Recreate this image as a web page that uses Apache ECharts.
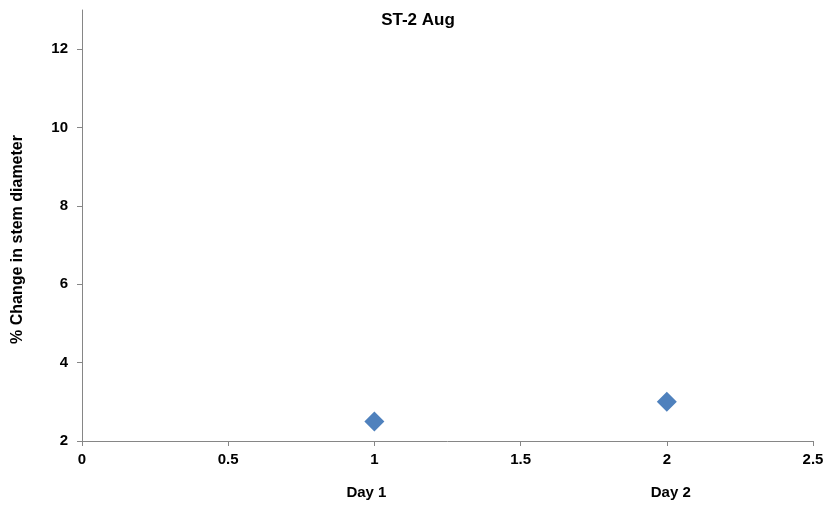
<!DOCTYPE html>
<html><head><meta charset="utf-8">
<script src="https://cdn.jsdelivr.net/npm/echarts@6/dist/echarts.min.js"></script>
<style>html,body{margin:0;padding:0;background:#fff}#c{width:829px;height:508px}</style>
</head><body><div id="c"></div>
<script>
const title = 'ST-2 Aug';
const yName = '% Change in stem diameter';
const xValues = [1, 2];
const yValues = [2.5, 3.0];
const dayLabels = ['Day 1', 'Day 2'];
const yTicks = [2, 4, 6, 8, 10, 12];
const xTicks = [0, 0.5, 1, 1.5, 2, 2.5];

const chart = echarts.init(document.getElementById('c'), null, {renderer: 'canvas'});
const font = 'Liberation Sans, Arial, sans-serif';
const axisColor = '#868686';
const lbl = {fontFamily: font, fontSize: 15, fontWeight: 'bold', color: '#000'};
chart.setOption({
  animation: false,
  title: {text: title, left: 413, top: 7, textAlign: 'center',
    textStyle: {fontFamily: font, fontSize: 17, fontWeight: 'bold', color: '#000'}},
  grid: {left: 82, right: 16, top: 10, bottom: 67, containLabel: false},
  xAxis: [{
    type: 'value', min: 0, max: 2.5, interval: 0.5,
    axisLine: {show: true, lineStyle: {color: axisColor, width: 1}},
    axisTick: {show: true, length: 5, lineStyle: {color: axisColor}, customValues: xTicks},
    splitLine: {show: false},
    axisLabel: Object.assign({margin: 11, customValues: xTicks}, lbl)
  }, {
    type: 'value', min: 0, max: 2.5, interval: 0.5, position: 'bottom', offset: 36,
    axisLine: {show: false}, axisTick: {show: false}, splitLine: {show: false},
    axisLabel: Object.assign({margin: 8, customValues: xValues,
      formatter: v => { const i = xValues.indexOf(v); return i === 0 ? '{a|' + dayLabels[i] + '}' : i === 1 ? '{b|' + dayLabels[i] + '}' : ''; },
      rich: {
        a: Object.assign({padding: [0, 16, 0, 0]}, lbl),
        b: Object.assign({padding: [0, 0, 0, 8]}, lbl)
      }}, lbl)
  }],
  yAxis: {
    type: 'value', min: 2, max: 13, interval: 2,
    name: yName, nameLocation: 'middle', nameGap: 56, nameRotate: 90,
    nameTextStyle: {fontFamily: font, fontSize: 16, fontWeight: 'bold', color: '#000', padding: [0, 0, 0, -28]},
    axisLine: {show: true, lineStyle: {color: axisColor, width: 1}},
    axisTick: {show: true, length: 5, lineStyle: {color: axisColor}, customValues: yTicks},
    splitLine: {show: false},
    axisLabel: Object.assign({margin: 14, customValues: yTicks}, lbl)
  },
  series: [{
    type: 'scatter', symbol: 'diamond', symbolSize: 20,
    itemStyle: {color: '#4F81BD', opacity: 1},
    data: xValues.map((x, i) => [x, yValues[i]])
  }]
});
</script></body></html>
